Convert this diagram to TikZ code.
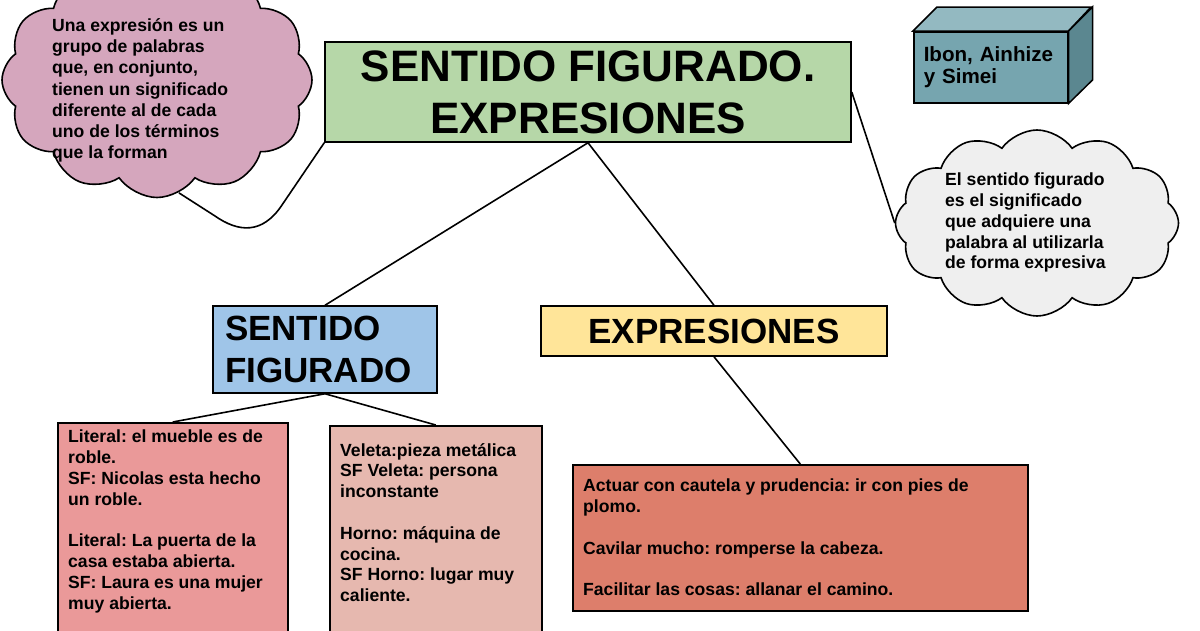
\documentclass[tikz,border=0pt]{standalone}
\usepackage{fontspec}
\setmainfont{Liberation Sans}
\usetikzlibrary{shapes.symbols}
\frenchspacing
\definecolor{titlegreen}{HTML}{B6D7A8}
\definecolor{cloudpink}{HTML}{D5A6BD}
\definecolor{cloudgrey}{HTML}{EFEFEF}
\definecolor{boxblue}{HTML}{9FC5E8}
\definecolor{boxyellow}{HTML}{FFE599}
\definecolor{boxrose}{HTML}{EA9999}
\definecolor{boxsalmon}{HTML}{E6B8AF}
\definecolor{boxcoral}{HTML}{DD7E6B}
\definecolor{tealfront}{HTML}{76A5AF}
\definecolor{tealtop}{HTML}{93B9C1}
\definecolor{tealside}{HTML}{5B8790}
\newcommand{\boldsize}[2]{\fontsize{#1}{#2}\selectfont\bfseries}
\tikzset{
  boxframe/.style={draw, line width=1.5pt, inner sep=0pt},
  puffy/.style={cloud, draw, line width=1.6pt, cloud puffs=12, cloud puff arc=110},
  notetext/.style={anchor=north west, align=left, inner sep=0pt, font=\boldsize{17.6}{20.8}},
  link/.style={draw, line width=1.6pt},
}
\begin{document}
\begin{tikzpicture}[x=1pt,y=-1pt]
    \useasboundingbox (0,0) rectangle (1200,630);
    \fill[white] (0,0) rectangle (1200,630);
    % nubes
    \node[puffy, fill=cloudpink, minimum width=310pt, minimum height=235pt] (pinkcloud) at (157,80) {};
    \node[puffy, fill=cloudgrey, minimum width=283pt, minimum height=186pt] (greycloud) at (1037,223) {};
    \node[notetext, font=\boldsize{17.6}{21.3}] (pinktext) at (52,18) {Una expresión es un\\grupo de palabras\\que, en conjunto,\\tienen un significado\\diferente al de cada\\uno de los términos\\que la forman};
    \node[notetext, font=\boldsize{17.6}{20.75}] (greytext) at (945,173) {El sentido figurado\\es el significado\\que adquiere una\\palabra al utilizarla\\de forma expresiva};
    % cajas
    \node[boxframe, fill=titlegreen, minimum width=526pt, minimum height=100pt, align=center, font=\boldsize{44}{52}] (green) at (588,92) {SENTIDO FIGURADO.\\EXPRESIONES};
    \node[boxframe, fill=boxblue, minimum width=224pt, minimum height=87pt, text width=200pt, inner xsep=12pt, align=left, font=\boldsize{35}{42}] (blue) at (325,349.5) {SENTIDO\\FIGURADO};
    \node[boxframe, fill=boxyellow, minimum width=346pt, minimum height=50pt, font=\boldsize{35}{42}] (yellow) at (714,331) {EXPRESIONES};
    \node[boxframe, fill=boxrose, anchor=north west, minimum width=230pt, minimum height=220pt] (roble) at (57,422) {};
    \node[boxframe, fill=boxsalmon, anchor=north west, minimum width=212pt, minimum height=220pt] (veleta) at (329,425) {};
    \node[boxframe, fill=boxcoral, anchor=north west, minimum width=455pt, minimum height=146pt] (cautela) at (572,464) {};
    \node[notetext] (robletext) at (68,430) {Literal: el mueble es de\\roble.\\SF: Nicolas esta hecho\\un roble.\\[20.8pt]Literal: La puerta de la\\casa estaba abierta.\\SF: Laura es una mujer\\muy abierta.};
    \node[notetext] (veletatext) at (340,443) {Veleta:pieza metálica\\SF Veleta: persona\\inconstante\\[20.8pt]Horno: máquina de\\cocina.\\SF Horno: lugar muy\\caliente.};
    \node[notetext] (cautelatext) at (583,479) {Actuar con cautela y prudencia: ir con pies de\\plomo.\\[20.8pt]Cavilar mucho: romperse la cabeza.\\[20.8pt]Facilitar las cosas: allanar el camino.};
    % caja 3d
    \node[boxframe, fill=tealfront, anchor=north west, minimum width=154pt, minimum height=71pt, text width=134pt, inner xsep=10pt, align=left, font=\boldsize{20.6}{22}] (ibon) at (913,31) {Ibon, Ainhize\\y Simei};
    \draw[boxframe, fill=tealtop] (ibon.north west) -- ++(24,-24) -- ++(154,0) -- (ibon.north east) -- cycle;
    \draw[boxframe, fill=tealside] (ibon.north east) -- ++(24,-24) -- ++(0,73) -- (ibon.south east) -- cycle;
    % lineas
    \draw[link] (green.south) -- (blue.north);
    \draw[link] (green.south) -- (yellow.north);
    \draw[link] (yellow.south) -- (cautela.north);
    \draw[link] (blue.south) -- (roble.north);
    \draw[link] (blue.south) -- (veleta.north);
    \draw[link] (green.east) -- (greycloud.west);
    \draw[link] (green.south west) -- (282,205) .. controls (262,235) and (238,232) .. (215,216) -- (pinkcloud.-79);
\end{tikzpicture}
\end{document}
